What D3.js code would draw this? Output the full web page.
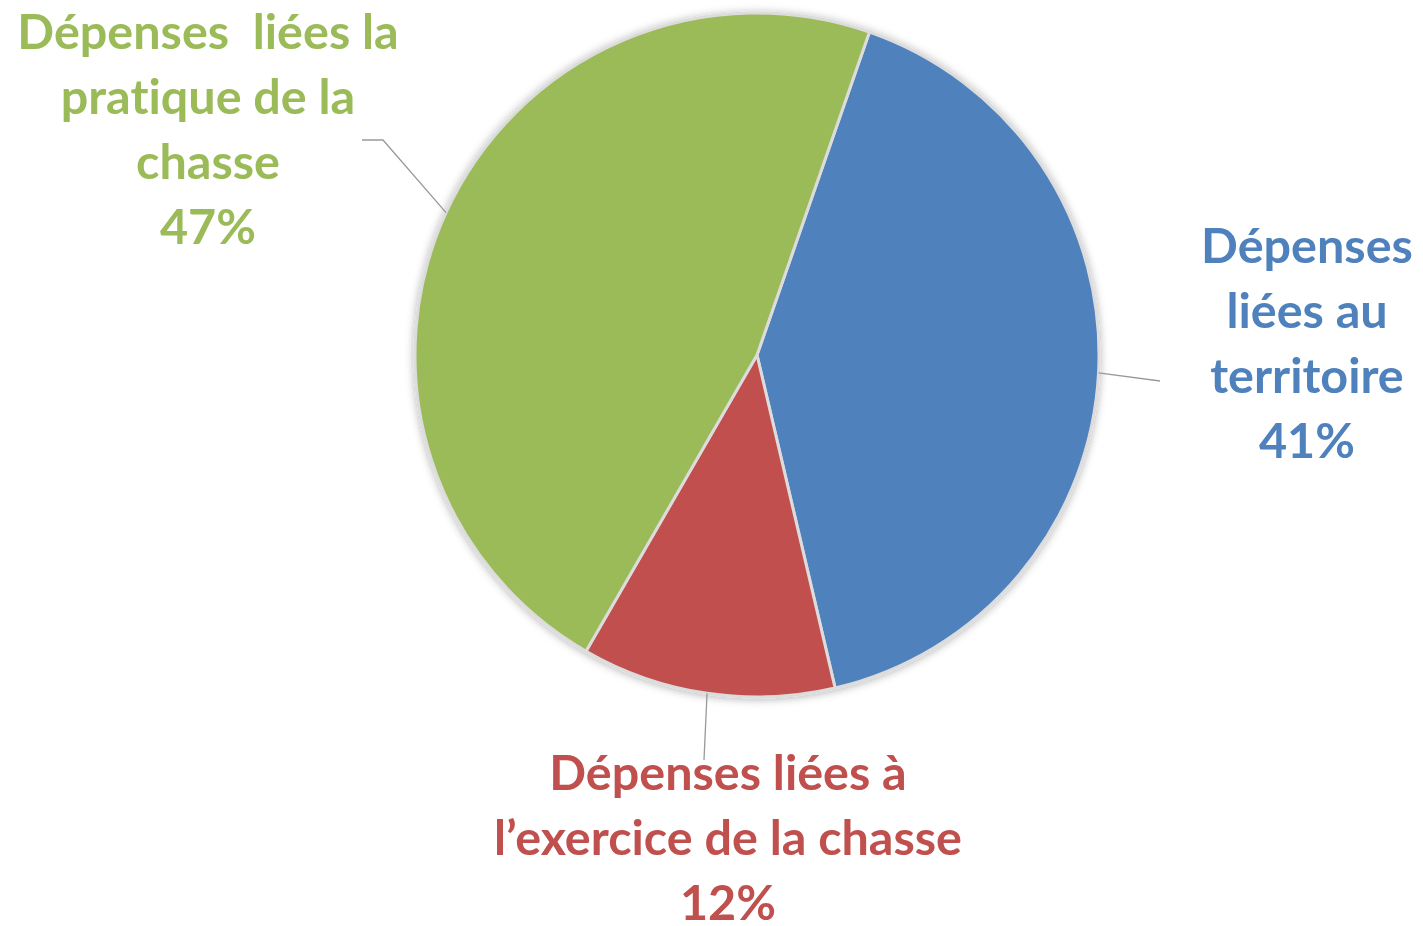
<!DOCTYPE html>
<html>
<head>
<meta charset="utf-8">
<script src="https://d3js.org/d3.v7.min.js"></script>
<style>
  body { margin: 0; background: #fff; }
  text { font-family: Lato, "Open Sans", sans-serif; font-weight: 700; font-variant-ligatures: none; }
</style>
</head>
<body>
<script>

var categories = ["territoire", "exercice", "pratique"];
var values = [41, 12, 47];
var colors = ["#4F81BD", "#C0504D", "#9BBB59"];
var labelLines = [
  ["Dépenses", "liées au", "territoire", "41%"],
  ["Dépenses liées à", "l\u2019exercice de la chasse", "12%"],
  ["Dépenses  liées la", "pratique de la", "chasse", "47%"]
];

var width = 1423, height = 926;
var cx = 757, cy = 355, radius = 342;
var startAngle = 19.2 * Math.PI / 180;
var lineHeight = 65;
var fontSize = 48.5;

// where each label block sits (centre x, first baseline y) and the elbow of its leader
var labelPos = [
  { x: 1307, y: 263, elbow: [1160, 381], end: [1160, 381] },
  { x: 728, y: 790, elbow: [704, 760], end: [704, 760] },
  { x: 208, y: 49, elbow: [383, 140], end: [362, 140] }
];

var svg = d3.select("body")
  .append("svg")
  .attr("width", width)
  .attr("height", height);

var defs = svg.append("defs");
var f = defs.append("filter").attr("id", "shadow")
  .attr("x", "-10%").attr("y", "-10%").attr("width", "120%").attr("height", "120%");
f.append("feDropShadow")
  .attr("dx", 0).attr("dy", 1)
  .attr("stdDeviation", 4)
  .attr("flood-color", "#000")
  .attr("flood-opacity", 0.3);

var pie = d3.pie()
  .sort(null)
  .startAngle(startAngle)
  .endAngle(startAngle + 2 * Math.PI);

var arcs = pie(values);

var arc = d3.arc().innerRadius(0).outerRadius(radius);

var g = svg.append("g").attr("transform", "translate(" + cx + "," + cy + ")");

g.append("g").attr("filter", "url(#shadow)")
  .selectAll("path")
  .data(arcs)
  .enter()
  .append("path")
  .attr("d", arc)
  .attr("fill", function(d, i) { return colors[i]; })
  .attr("stroke", "#dcdcdc")
  .attr("stroke-width", 3)
  .attr("stroke-linejoin", "round");

// leader lines from the slice's mid angle on the rim
svg.selectAll("polyline.leader")
  .data(arcs)
  .enter()
  .append("polyline")
  .attr("class", "leader")
  .attr("fill", "none")
  .attr("stroke", "#999")
  .attr("stroke-width", 1.3)
  .attr("points", function(d, i) {
    var a = (d.startAngle + d.endAngle) / 2;
    var p0 = [cx + Math.sin(a) * radius, cy - Math.cos(a) * radius];
    var lp = labelPos[i];
    return [p0, lp.elbow, lp.end].map(function(p) { return p.join(","); }).join(" ");
  });

var labels = svg.selectAll("text.label")
  .data(labelLines)
  .enter()
  .append("text")
  .attr("class", "label")
  .attr("text-anchor", "middle")
  .attr("font-size", fontSize)
  .attr("fill", function(d, i) { return colors[i]; })
  .attr("x", function(d, i) { return labelPos[i].x; })
  .attr("y", function(d, i) { return labelPos[i].y; })
  .style("white-space", "pre");

labels.selectAll("tspan")
  .data(function(d, i) { return d.map(function(t) { return { t: t, i: i }; }); })
  .enter()
  .append("tspan")
  .attr("x", function(d) { return labelPos[d.i].x; })
  .attr("dy", function(d, j) { return j === 0 ? 0 : lineHeight; })
  .text(function(d) { return d.t; });

</script>
</body>
</html>
